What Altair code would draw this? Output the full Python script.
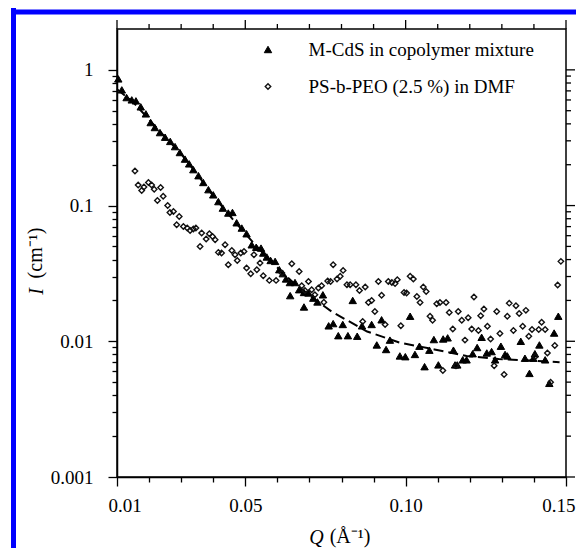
import altair as alt
import pandas as pd

FONT = "Liberation Serif"
series_names = ["M-CdS in copolymer mixture", "PS-b-PEO (2.5 %) in DMF"]

q_tri = [0.0104, 0.0115, 0.0130, 0.0146, 0.0159, 0.0174, 0.0190, 0.0205, 0.0218, 0.0234,
         0.0250, 0.0266, 0.0281, 0.0296, 0.0312, 0.0325, 0.0338, 0.0354, 0.0369, 0.0385,
         0.0400, 0.0416, 0.0430, 0.0447, 0.0460, 0.0473, 0.0489, 0.0504, 0.0520, 0.0534,
         0.0549, 0.0556, 0.0567, 0.0579, 0.0593, 0.0606, 0.0617, 0.0627, 0.0639, 0.0640,
         0.0655, 0.0668, 0.0683, 0.0683, 0.0697, 0.0712, 0.0725, 0.0742, 0.0760, 0.0774,
         0.0790, 0.0804, 0.0820, 0.0835, 0.0849, 0.0864, 0.0894, 0.0910, 0.0925, 0.0939,
         0.0951, 0.0982, 0.0999, 0.1014, 0.1029, 0.1043, 0.1059, 0.1074, 0.1088, 0.1102,
         0.1117, 0.1131, 0.1149, 0.1154, 0.1161, 0.1178, 0.1190, 0.1209, 0.1223, 0.1237,
         0.1253, 0.1268, 0.1279, 0.1297, 0.1310, 0.1317, 0.1359, 0.1372, 0.1386, 0.1398,
         0.1403, 0.1417, 0.1435, 0.1448, 0.1463, 0.1476]
i_tri = [0.858, 0.712, 0.625, 0.601, 0.591, 0.534, 0.474, 0.409, 0.376, 0.345,
         0.319, 0.297, 0.272, 0.246, 0.220, 0.203, 0.184, 0.166, 0.148, 0.131,
         0.120, 0.107, 0.0958, 0.0881, 0.0890, 0.0747, 0.0683, 0.0620, 0.0514, 0.0493,
         0.0486, 0.0447, 0.0418, 0.0394, 0.0388, 0.0337, 0.0315, 0.0288, 0.0271, 0.0217,
         0.0271, 0.0240, 0.0229, 0.0179, 0.0227, 0.0208, 0.0195, 0.0220, 0.0130, 0.0135,
         0.0110, 0.0133, 0.0110, 0.0200, 0.0109, 0.0130, 0.0133, 0.0094, 0.0144, 0.0087,
         0.0102, 0.0078, 0.0077, 0.0153, 0.0080, 0.0092, 0.0065, 0.0086, 0.0103, 0.0067,
         0.0104, 0.0106, 0.0086, 0.0067, 0.0067, 0.0073, 0.0073, 0.0081, 0.0090, 0.0107,
         0.0082, 0.0084, 0.0073, 0.0092, 0.0080, 0.0078, 0.0100, 0.0075, 0.0058, 0.0075,
         0.0081, 0.0094, 0.0073, 0.0049, 0.0115, 0.0153]

q_dia = [0.0156, 0.0166, 0.0177, 0.0184, 0.0198, 0.0208, 0.0216, 0.0226, 0.0236, 0.0244,
         0.0258, 0.0265, 0.0276, 0.0286, 0.0294, 0.0307, 0.0319, 0.0328, 0.0338, 0.0346,
         0.0359, 0.0364, 0.0378, 0.0388, 0.0398, 0.0406, 0.0416, 0.0426, 0.0437, 0.0447,
         0.0458, 0.0468, 0.0475, 0.0486, 0.0496, 0.0504, 0.0517, 0.0527, 0.0536, 0.0546,
         0.0556, 0.0575, 0.0596, 0.0614, 0.0645, 0.0668, 0.0676, 0.0686, 0.0697, 0.0707,
         0.0717, 0.0728, 0.0738, 0.0745, 0.0757, 0.0766, 0.0774, 0.0786, 0.0796, 0.0805,
         0.0817, 0.0827, 0.0845, 0.0856, 0.0866, 0.0874, 0.0884, 0.0894, 0.0904, 0.0915,
         0.0925, 0.0936, 0.0946, 0.0957, 0.0967, 0.0974, 0.0985, 0.0995, 0.1003, 0.1014,
         0.1024, 0.1035, 0.1045, 0.1055, 0.1064, 0.1076, 0.1084, 0.1097, 0.1107, 0.1116,
         0.1126, 0.1136, 0.1147, 0.1157, 0.1164, 0.1175, 0.1185, 0.1195, 0.1206, 0.1213,
         0.1227, 0.1234, 0.1244, 0.1255, 0.1265, 0.1276, 0.1284, 0.1294, 0.1307, 0.1317,
         0.1323, 0.1336, 0.1344, 0.1354, 0.1365, 0.1375, 0.1384, 0.1394, 0.1404, 0.1415,
         0.1424, 0.1435, 0.1442, 0.1452, 0.1465, 0.1474, 0.1484]
i_dia = [0.180, 0.142, 0.129, 0.137, 0.148, 0.142, 0.132, 0.109, 0.136, 0.117,
         0.100, 0.089, 0.0905, 0.0722, 0.0831, 0.0702, 0.0683, 0.0656, 0.0671, 0.0683,
         0.0500, 0.0627, 0.0567, 0.0620, 0.0592, 0.0560, 0.0452, 0.0447, 0.0514, 0.0366,
         0.0467, 0.0434, 0.0394, 0.0447, 0.0459, 0.0347, 0.0315, 0.0434, 0.0337, 0.0377,
         0.0304, 0.0281, 0.0281, 0.0318, 0.0373, 0.0327, 0.0257, 0.0237, 0.0276, 0.0240,
         0.0220, 0.0247, 0.0257, 0.0194, 0.0278, 0.0276, 0.0366, 0.0288, 0.0301, 0.0333,
         0.0261, 0.0261, 0.0261, 0.0237, 0.0140, 0.0251, 0.0193, 0.0200, 0.0166, 0.0276,
         0.0218, 0.0133, 0.0276, 0.0271, 0.0266, 0.0284, 0.0130, 0.0229, 0.0227, 0.0301,
         0.0288, 0.0214, 0.0193, 0.0251, 0.0233, 0.0153, 0.0143, 0.0189, 0.0193, 0.0061,
         0.0193, 0.0163, 0.0123, 0.0066, 0.0166, 0.0143, 0.0102, 0.0149, 0.0123, 0.0212,
         0.0120, 0.0154, 0.0173, 0.0129, 0.0104, 0.0066, 0.0166, 0.0114, 0.0057, 0.0153,
         0.0191, 0.0120, 0.0183, 0.0160, 0.0129, 0.0169, 0.0109, 0.0122, 0.0077, 0.0122,
         0.0138, 0.0122, 0.0082, 0.0050, 0.0093, 0.0260, 0.0388]

q_fit = [0.010, 0.015, 0.020, 0.025, 0.030, 0.035, 0.040, 0.045, 0.050, 0.055, 0.060,
         0.065, 0.071, 0.077, 0.088, 0.098, 0.109, 0.119, 0.129, 0.140, 0.148]
i_fit = [0.72, 0.58, 0.43, 0.32, 0.24, 0.17, 0.118, 0.085, 0.062, 0.046, 0.035,
         0.027, 0.0209, 0.0165, 0.0118, 0.0098, 0.0087, 0.0078, 0.0074, 0.0072, 0.0070]

x_major = [0.01, 0.05, 0.1, 0.15]
x_ticks = [round(0.01 * k, 2) for k in range(1, 16)]
x_minor = [t for t in x_ticks if t not in x_major]
y_major = [0.001, 0.01, 0.1, 1]
y_ticks = [round(m * 10.0 ** e, 6) for e in (-3, -2, -1) for m in range(1, 10)] + [1]
y_minor = [t for t in y_ticks if t not in y_major]
x_test = "indexof([0.01,0.05,0.1,0.15], datum.value) >= 0"
y_test = "indexof([0.001,0.01,0.1,1], datum.value) >= 0"

pts = pd.DataFrame({
    "Q": q_tri + q_dia,
    "I": i_tri + i_dia,
    "series": [series_names[0]] * len(q_tri) + [series_names[1]] * len(q_dia),
})
fit = pd.DataFrame({"Q": q_fit, "I": i_fit})
dummy = pd.DataFrame({"a": [0]})

W, H = 449, 448
xscale = alt.Scale(domain=[0.01, 0.15], nice=False, zero=False)
yscale = alt.Scale(type="log", domain=[0.001, 2], nice=False)


def tsize(test):
    return {"condition": {"test": test, "value": 9}, "value": 5}


common = dict(domainColor="black", domainWidth=1.5, tickColor="black", tickWidth=1.3,
              grid=False, labelFont=FONT, labelFontSize=19, labelColor="black",
              titleFont=FONT, titleFontSize=20, titleColor="black",
              titleFontWeight="normal", labelOverlap=False)

x_axis = alt.Axis(orient="bottom", values=x_ticks, tickSize=tsize(x_test),
                  labelExpr=f"{x_test} ? format(datum.value, '.2f') : ''",
                  labelFlush=True, labelFlushOffset=9,
                  labelPadding=10, title="Q", titleFontStyle="italic",
                  titleX=199, titleY=66, titleAlign="center",
                  titleBaseline="alphabetic", **common)
y_axis = alt.Axis(orient="left", values=y_ticks, tickSize=tsize(y_test),
                  labelExpr=f"{y_test} ? format(datum.value, '~g') : ''",
                  labelFlush=False,
                  labelPadding=15, title="I", titleFontStyle="italic",
                  titleAngle=270, titleX=-75, titleY=262, titleAlign="center",
                  titleBaseline="alphabetic", **common)

leg = alt.Legend(orient="none", legendX=141.5, legendY=11, title=None, labelFont=FONT,
                 labelFontSize=19, labelColor="black", labelOffset=31, rowPadding=17,
                 symbolStrokeWidth=1.2, padding=0, labelLimit=400)

left_border = alt.Chart(dummy).mark_rule(color="#0000ff", strokeWidth=5).encode(
    x=alt.value(-103.5), y=alt.value(-21), y2=alt.value(560))
top_border = alt.Chart(dummy).mark_rule(color="#0000ff", strokeWidth=5).encode(
    x=alt.value(-106), x2=alt.value(480), y=alt.value(-17))

# mirrored ticks on the top and right edges, placed by the shared scales
top_major = alt.Chart(pd.DataFrame({"t": x_major})).mark_rule(color="black", strokeWidth=1.3).encode(
    x=alt.X("t:Q", scale=xscale, axis=x_axis), y=alt.value(0), y2=alt.value(-9))
top_minor = alt.Chart(pd.DataFrame({"t": x_minor})).mark_rule(color="black", strokeWidth=1.3).encode(
    x=alt.X("t:Q", scale=xscale, axis=x_axis), y=alt.value(0), y2=alt.value(-5))
right_major = alt.Chart(pd.DataFrame({"t": y_major})).mark_rule(color="black", strokeWidth=1.3).encode(
    y=alt.Y("t:Q", scale=yscale, axis=y_axis), x=alt.value(W), x2=alt.value(W + 9))
right_minor = alt.Chart(pd.DataFrame({"t": y_minor})).mark_rule(color="black", strokeWidth=1.3).encode(
    y=alt.Y("t:Q", scale=yscale, axis=y_axis), x=alt.value(W), x2=alt.value(W + 5))

x_title_rest = alt.Chart(dummy).mark_text(font=FONT, fontSize=20, color="black",
                                          align="center", baseline="alphabetic").encode(
    x=alt.value(233), y=alt.value(H + 66), text=alt.value("(Å⁻¹)"))
y_title_rest = alt.Chart(dummy).mark_text(font=FONT, fontSize=20, color="black", angle=270,
                                          align="center", baseline="alphabetic").encode(
    x=alt.value(-75), y=alt.value(224), text=alt.value("(cm⁻¹)"))

fit_line = alt.Chart(fit).mark_line(color="black", strokeWidth=2, strokeDash=[10, 5]).encode(
    x=alt.X("Q:Q", scale=xscale, axis=x_axis),
    y=alt.Y("I:Q", scale=yscale, axis=y_axis),
)

points = alt.Chart(pts).mark_point(opacity=1).encode(
    x=alt.X("Q:Q", scale=xscale, axis=x_axis),
    y=alt.Y("I:Q", scale=yscale, axis=y_axis),
    shape=alt.Shape("series:N", scale=alt.Scale(domain=series_names, range=["triangle-up", "diamond"]), legend=leg),
    fill=alt.Fill("series:N", scale=alt.Scale(domain=series_names, range=["black", "transparent"]), legend=leg),
    stroke=alt.Stroke("series:N", scale=alt.Scale(domain=series_names, range=["black", "#111111"]), legend=leg),
    size=alt.Size("series:O", scale=alt.Scale(domain=series_names, range=[55, 30]), legend=leg),
    strokeWidth=alt.StrokeWidth("series:O", scale=alt.Scale(domain=series_names, range=[1, 1.4]), legend=leg),
)

chart = alt.layer(
    left_border, top_border, top_major, top_minor, right_major, right_minor,
    x_title_rest, y_title_rest, fit_line, points,
).properties(
    width=W, height=H,
    padding={"left": 109, "top": 21, "right": 10, "bottom": 71},
    autosize=alt.AutoSizeParams(type="none"),
    background="white",
).configure_view(stroke="black", strokeWidth=1.5)

chart.save("out.html", embed_options={"renderer": "svg", "actions": False})
